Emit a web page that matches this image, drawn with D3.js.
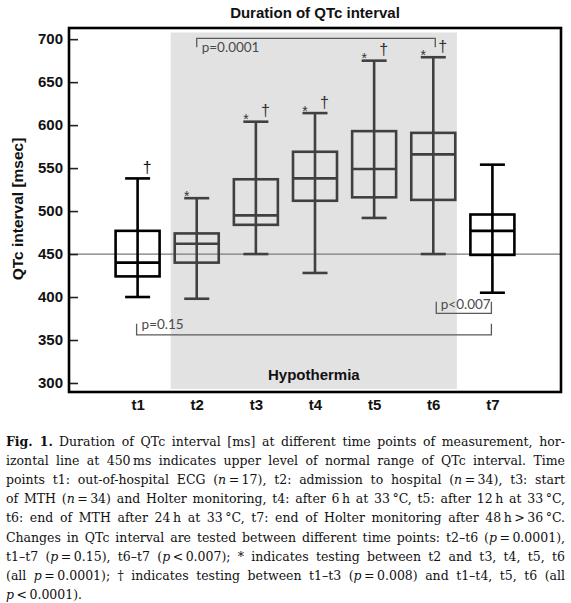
<!DOCTYPE html>
<html>
<head>
<meta charset="utf-8">
<script src="https://cdn.jsdelivr.net/npm/d3@7"></script>
<style>
  body { margin: 0; background: #fff; }
  svg { display: block; }
</style>
</head>
<body>
<svg id="chart"></svg>
<script>
// values (QTc in msec)
const timePoints = ["t1", "t2", "t3", "t4", "t5", "t6", "t7"];
const whiskerLow = [400, 398, 450, 428, 492, 450, 405];
const q1 = [424, 440, 484, 512, 516, 513, 449];
const medians = [440, 462, 495, 538, 549, 566, 477];
const q3 = [477, 474, 537, 569, 593, 591, 496];
const whiskerHigh = [538, 515, 604, 614, 675, 679, 554];
const starMarks = ["", "*", "*", "*", "*", "*", ""];
const daggerMarks = ["\u2020", "", "\u2020", "\u2020", "\u2020", "\u2020", ""];
const yTicks = [300, 350, 400, 450, 500, 550, 600, 650, 700];
const normalUpper = 450;
const hypoPoints = ["t2", "t3", "t4", "t5", "t6"];
const pLabels = ["p=0.0001", "p=0.15", "p<0.007"];
const pFrom = ["t2", "t1", "t6"];
const pTo = ["t6", "t7", "t7"];

const captionLines = [
  "<b>Fig. 1.</b>\u2002Duration of QTc interval [ms] at different time points of measurement, hor-",
  "izontal line at 450\u2009ms indicates upper level of normal range of QTc interval. Time",
  "points t1: out-of-hospital ECG (<i>n</i>\u2009=\u200917), t2: admission to hospital (<i>n</i>\u2009=\u200934), t3: start",
  "of MTH (<i>n</i>\u2009=\u200934) and Holter monitoring, t4: after 6\u2009h at 33\u2009\u00b0C, t5: after 12\u2009h at 33\u2009\u00b0C,",
  "t6: end of MTH after 24\u2009h at 33\u2009\u00b0C, t7: end of Holter monitoring after 48\u2009h\u2009>\u200936\u2009\u00b0C.",
  "Changes in QTc interval are tested between different time points: t2\u2013t6 (<i>p</i>\u2009=\u20090.0001),",
  "t1\u2013t7 (<i>p</i>\u2009=\u20090.15), t6\u2013t7 (<i>p</i>\u2009<\u20090.007); * indicates testing between t2 and t3, t4, t5, t6",
  "(all <i>p</i>\u2009=\u20090.0001); \u2020 indicates testing between t1\u2013t3 (<i>p</i>\u2009=\u20090.008) and t1\u2013t4, t5, t6 (all",
  "<i>p</i>\u2009<\u20090.0001).",
];

const width = 571;
const height = 603;
const frame = { left: 69, top: 28, right: 561, bottom: 392 };
const sans = "'Liberation Sans', Arial, sans-serif";

const svg = d3.select("#chart").attr("width", width).attr("height", height);

const x = d3
  .scalePoint()
  .domain(timePoints)
  .range([frame.left, frame.right])
  .padding(1.16);
const y = d3.scaleLinear().domain([289.5, 713]).range([frame.bottom, frame.top]);
const step = x.step();

// hypothermia shading
const hypoX0 = x(hypoPoints[0]) - step * 0.44;
const hypoX1 = x(hypoPoints[hypoPoints.length - 1]) + step * 0.4;
svg
  .append("rect")
  .attr("x", hypoX0)
  .attr("y", frame.top + 4.5)
  .attr("width", hypoX1 - hypoX0)
  .attr("height", frame.bottom - frame.top - 7.5)
  .attr("fill", "#e2e2e2");

svg
  .append("text")
  .attr("x", (hypoX0 + hypoX1) / 2)
  .attr("y", 380)
  .attr("text-anchor", "middle")
  .attr("font-family", sans)
  .attr("font-weight", "bold")
  .attr("font-size", "15px")
  .attr("fill", "#111")
  .text("Hypothermia");

// upper normal limit
svg
  .append("line")
  .attr("x1", frame.left)
  .attr("x2", frame.right)
  .attr("y1", y(normalUpper))
  .attr("y2", y(normalUpper))
  .attr("stroke", "#7a7a7a")
  .attr("stroke-width", 1.3);

// y axis, ticks point inwards
const yAxis = svg
  .append("g")
  .attr("transform", `translate(${frame.left}, 0)`)
  .call(
    d3.axisLeft(y).tickValues(yTicks).tickSizeInner(-9).tickSizeOuter(0).tickPadding(6)
  );
yAxis.select(".domain").remove();
yAxis.selectAll("line").attr("stroke", "#222").attr("stroke-width", 1.6);
yAxis
  .selectAll("text")
  .attr("font-family", sans)
  .attr("font-weight", "bold")
  .attr("font-size", "15px")
  .attr("fill", "#111");

const xAxis = svg
  .append("g")
  .attr("transform", `translate(0, ${frame.bottom})`)
  .call(d3.axisBottom(x).tickSize(0).tickPadding(7.4));
xAxis.select(".domain").remove();
xAxis
  .selectAll("text")
  .attr("font-family", sans)
  .attr("font-weight", "bold")
  .attr("font-size", "15px")
  .attr("fill", "#111");

// box plots
const boxData = timePoints.map((t, i) => ({
  t,
  lo: whiskerLow[i],
  q1: q1[i],
  med: medians[i],
  q3: q3[i],
  hi: whiskerHigh[i],
  star: starMarks[i],
  dagger: daggerMarks[i],
  color: hypoPoints.includes(t) ? "#404040" : "#000",
}));

const boxW = 44;
const capW = 25;
const boxes = svg
  .selectAll(".box")
  .data(boxData)
  .enter()
  .append("g")
  .attr("class", "box")
  .attr("transform", (d) => `translate(${x(d.t)}, 0)`)
  .attr("stroke", (d) => d.color)
  .attr("stroke-width", 2.6)
  .attr("fill", "none");

boxes
  .append("line")
  .attr("y1", (d) => y(d.hi))
  .attr("y2", (d) => y(d.lo));
boxes
  .append("line")
  .attr("x1", -capW / 2)
  .attr("x2", capW / 2)
  .attr("y1", (d) => y(d.hi))
  .attr("y2", (d) => y(d.hi));
boxes
  .append("line")
  .attr("x1", -capW / 2)
  .attr("x2", capW / 2)
  .attr("y1", (d) => y(d.lo))
  .attr("y2", (d) => y(d.lo));
boxes
  .append("rect")
  .attr("x", -boxW / 2)
  .attr("width", boxW)
  .attr("y", (d) => y(d.q3))
  .attr("height", (d) => y(d.q1) - y(d.q3));
boxes
  .append("line")
  .attr("x1", -boxW / 2)
  .attr("x2", boxW / 2)
  .attr("y1", (d) => y(d.med))
  .attr("y2", (d) => y(d.med));

boxes
  .append("text")
  .attr("x", -10)
  .attr("y", (d) => y(d.hi) + 2.5)
  .attr("text-anchor", "middle")
  .attr("stroke", "none")
  .attr("fill", "#333")
  .attr("font-family", sans)
  .attr("font-size", "14px")
  .text((d) => d.star);
boxes
  .append("text")
  .attr("x", 9.5)
  .attr("y", (d) => y(d.hi) - 5.5)
  .attr("text-anchor", "middle")
  .attr("stroke", "none")
  .attr("fill", (d) => (d.color === "#000" ? "#111" : "#333"))
  .attr("font-family", sans)
  .attr("font-size", "16px")
  .text((d) => d.dagger);

// significance brackets
const bracketSpec = [
  { level: 701, tick: 9, dx0: 0, dx1: 2, tx: 5, ty: 13.4 },
  { level: 356, tick: -11, dx0: -1, dx1: -1, tx: 5, ty: -6 },
  { level: 381, tick: -11.6, dx0: 3, dx1: -1, tx: 4.5, ty: -4 },
];
pLabels.forEach((label, i) => {
  const s = bracketSpec[i];
  const xa = x(pFrom[i]) + s.dx0;
  const xb = x(pTo[i]) + s.dx1;
  const yl = y(s.level);
  svg
    .append("path")
    .attr("d", `M${xa},${yl + s.tick}V${yl}H${xb}V${yl + s.tick}`)
    .attr("fill", "none")
    .attr("stroke", "#5a5a5a")
    .attr("stroke-width", 1.3);
  svg
    .append("text")
    .attr("x", xa + s.tx)
    .attr("y", yl + s.ty)
    .attr("font-family", "Lato, 'Open Sans', sans-serif")
    .attr("font-size", "13.5px")
    .attr("fill", "#4a4a4a")
    .text(label);
});

// frame
svg
  .append("rect")
  .attr("x", frame.left)
  .attr("y", frame.top)
  .attr("width", frame.right - frame.left)
  .attr("height", frame.bottom - frame.top)
  .attr("fill", "none")
  .attr("stroke", "#000")
  .attr("stroke-width", 2.6);

// titles
svg
  .append("text")
  .attr("x", 315)
  .attr("y", 18)
  .attr("text-anchor", "middle")
  .attr("font-family", sans)
  .attr("font-weight", "bold")
  .attr("font-size", "15px")
  .attr("fill", "#111")
  .text("Duration of QTc interval");

svg
  .append("text")
  .attr("transform", "translate(23, 209) rotate(-90)")
  .attr("text-anchor", "middle")
  .attr("font-family", sans)
  .attr("font-weight", "bold")
  .attr("font-size", "15.5px")
  .attr("fill", "#111")
  .text("QTc interval [msec]");

// caption, justified line by line
const capLeft = 6;
const capRight = 565;
captionLines.forEach((line, i) => {
  const t = svg
    .append("text")
    .attr("x", capLeft)
    .attr("y", 446 + i * 19.1)
    .attr("font-family", "'DejaVu Serif', serif")
    .attr("font-size", "12.5px")
    .attr("fill", "#111");
  line
    .split(/(<[bi]>.*?<\/[bi]>)/)
    .filter((s) => s.length)
    .forEach((seg) => {
      const m = seg.match(/^<([bi])>(.*)<\/\1>$/);
      const ts = t.append("tspan").text(m ? m[2] : seg);
      if (m && m[1] === "b") ts.attr("font-weight", "bold");
      if (m && m[1] === "i") ts.attr("font-style", "italic");
    });
  if (i < captionLines.length - 1) {
    const len = t.node().getComputedTextLength();
    const gaps = (t.text().match(/ /g) || []).length;
    t.attr("word-spacing", (capRight - capLeft - len) / gaps);
  }
});
</script>
</body>
</html>
